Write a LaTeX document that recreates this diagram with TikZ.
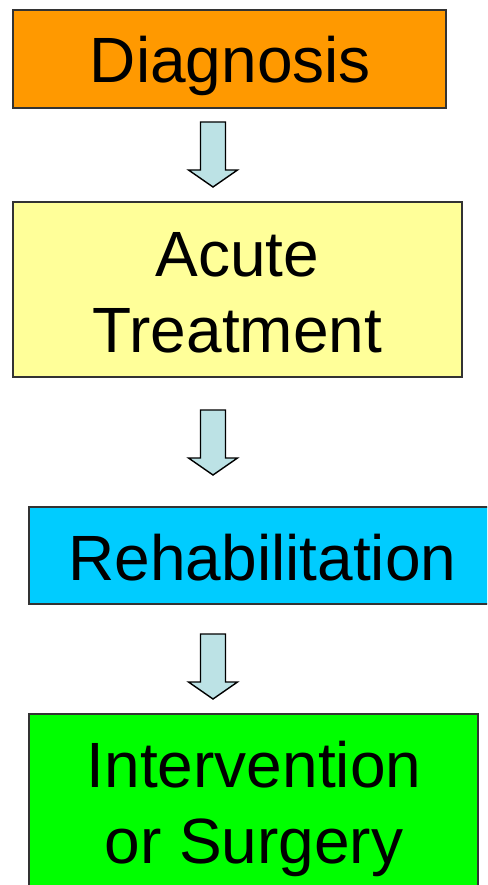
\documentclass[tikz,border=0pt]{standalone}
\usepackage{fontspec}
\setmainfont{Liberation Sans}
\definecolor{cDiag}{HTML}{FF9900}
\definecolor{cAcute}{HTML}{FFFF99}
\definecolor{cRehab}{HTML}{00CCFF}
\definecolor{cSurg}{HTML}{00FF00}
\definecolor{cArrow}{HTML}{BCE2E5}
\begin{document}
\begin{tikzpicture}[x=1pt,y=-1pt,
  stagebox/.style={draw=black!80, line width=1.2pt},
  label/.style={inner sep=0pt, anchor=base, font=\fontsize{64}{76}\selectfont},
  blockarrow/.style={draw=black, line width=1.4pt, fill=cArrow, line join=miter}]
\useasboundingbox (0,0) rectangle (487,885);
\clip (0,0) rectangle (487,885);
% boxes
\draw[stagebox, fill=cDiag] (13,10) rectangle (446,108);
\node[label] (diag) at (230.5,83) {Diagnosis};
\draw[stagebox, fill=cAcute] (13,202) rectangle (462,377);
\node[label] (acute) at (237.5,352) {\renewcommand\arraystretch{1}\setlength\tabcolsep{0pt}\begin{tabular}[b]{c}Acute\\Treatment\end{tabular}};
\draw[stagebox, fill=cRehab] (29,507) rectangle (497,604);
\node[label] (rehab) at (262.5,580) {Rehabilitation};
\draw[stagebox, fill=cSurg] (29,714) rectangle (478,900);
\node[label] (surg) at (254,863) {\renewcommand\arraystretch{1}\setlength\tabcolsep{0pt}\begin{tabular}[b]{c}Intervention\\or Surgery\end{tabular}};
% block arrows
\coordinate (t1) at (213,122);
\coordinate (t2) at (213,410);
\coordinate (t3) at (213,634);
\foreach \t in {t1,t2,t3}{
  \draw[blockarrow] ([xshift=-12.5pt]\t) -- ([xshift=12.5pt]\t)
    -- ([xshift=12.5pt,yshift=-48pt]\t) -- ([xshift=24.5pt,yshift=-48pt]\t)
    -- ([yshift=-65pt]\t) -- ([xshift=-24.5pt,yshift=-48pt]\t)
    -- ([xshift=-12.5pt,yshift=-48pt]\t) -- cycle;
}
\end{tikzpicture}
\end{document}
